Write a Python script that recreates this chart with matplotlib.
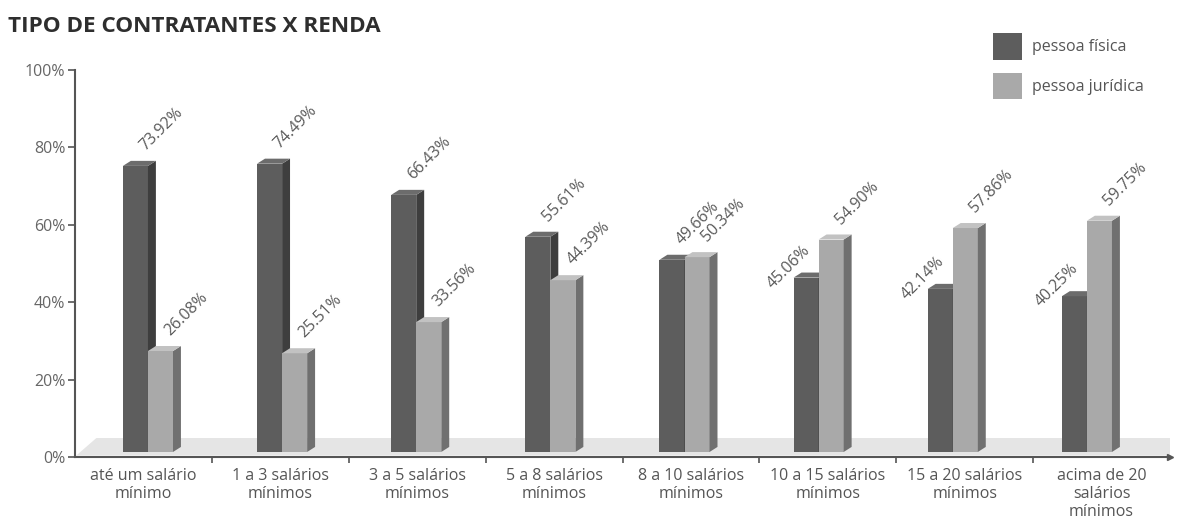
import matplotlib
matplotlib.use('Agg')
import matplotlib.pyplot as plt
from matplotlib.patches import Polygon
import numpy as np

plt.rcParams['font.family'] = ['Open Sans', 'DejaVu Sans']

# dados
categorias = ['até um salário\nmínimo', '1 a 3 salários\nmínimos',
              '3 a 5 salários\nmínimos', '5 a 8 salários\nmínimos',
              '8 a 10 salários\nmínimos', '10 a 15 salários\nmínimos',
              '15 a 20 salários\nmínimos', 'acima de 20\nsalários\nmínimos']
fisica = [73.92, 74.49, 66.43, 55.61, 49.66, 45.06, 42.14, 40.25]
juridica = [26.08, 25.51, 33.56, 44.39, 50.34, 54.90, 57.86, 59.75]
yticks = [0, 20, 40, 60, 80, 100]

# cores (frente, lado, topo)
cor_fis = ('#5d5d5d', '#3e3e3e', '#6c6c6c')
cor_jur = ('#a9a9a9', '#707070', '#c2c2c2')

base = 1.3      # barras ficam sobre o "piso"
larg = 0.183    # largura de cada barra
dx, dy = 0.058, 1.3   # profundidade 3D

fig = plt.figure(figsize=(11.77, 5.27), dpi=100)
ax = fig.add_axes([75/1177, 1 - 457/527, (1170 - 75)/1177, (457 - 70)/527])
ax.set_xlim(-0.5, 7.5)
ax.set_ylim(0, 100)

# piso
ax.add_patch(Polygon([(-0.49, 0.4), (-0.49 + 0.146, 4.9), (7.5, 4.9), (7.5, 0.4)],
                     closed=True, facecolor='#e5e5e5', edgecolor='none', zorder=1))


def barra3d(x0, v, cores, z):
    frente, lado, topo = cores
    ax.bar(x0, v, width=larg, bottom=base, align='edge', color=frente,
           edgecolor='none', zorder=z)
    x1 = x0 + larg
    h = base + v
    ax.add_patch(Polygon([(x1, base), (x1 + dx, base + dy), (x1 + dx, h + dy), (x1, h)],
                         closed=True, facecolor=lado, edgecolor='none', zorder=z))
    ax.add_patch(Polygon([(x0, h), (x0 + dx, h + dy), (x1 + dx, h + dy), (x1, h)],
                         closed=True, facecolor=topo, edgecolor='none', zorder=z))


pos = np.arange(len(categorias))
rot = dict(rotation=45, rotation_mode='anchor', ha='center', va='center',
           fontsize=11.5, color='#5a5a5a', zorder=30,
           bbox=dict(facecolor='white', edgecolor='none', pad=0.5))

for i, (f, j) in enumerate(zip(fisica, juridica)):
    xf = 0.98 * pos[i] - 0.15
    xj = xf + larg
    barra3d(xf, f, cor_fis, 2 + 2 * i)
    barra3d(xj, j, cor_jur, 3 + 2 * i)
    cf = xf + larg / 2
    cj = xj + larg / 2
    if j > f + 3:
        ax.text(cf - 0.13, base + f + 2.8, f'{f:.2f}%', **rot)
    else:
        ax.text(cf + 0.19, base + f + 9.5, f'{f:.2f}%', **rot)
    ax.text(cj + 0.19, base + j + 9.5, f'{j:.2f}%', **rot)

# eixos
for s in ['top', 'right']:
    ax.spines[s].set_visible(False)
for s in ['left', 'bottom']:
    ax.spines[s].set_color('#555555')
    ax.spines[s].set_linewidth(1.5)
ax.plot(1, 0, '>', color='#555555', markersize=4, clip_on=False,
        transform=ax.get_yaxis_transform(), zorder=20)

ax.set_yticks(yticks)
ax.set_yticklabels([f'{v}%' for v in yticks])
ax.tick_params(axis='y', direction='out', length=5, width=1.2, color='#555555',
               labelcolor='#666666', labelsize=11.5, pad=2)

ax.set_xticks(pos[:-1] + 0.5)
ax.set_xticklabels([])
ax.tick_params(axis='x', which='major', direction='out', length=4, width=1.2,
               color='#555555')
ax.set_xticks(pos, minor=True)
ax.set_xticklabels(categorias, minor=True, linespacing=1.15)
ax.tick_params(axis='x', which='minor', length=0, pad=8, labelsize=11.5,
               labelcolor='#555555')

# titulo
fig.text(8/1177, 1 - 27/527, 'TIPO DE CONTRATANTES X RENDA', fontsize=16.2,
         fontweight='bold', color='#2e2e2e', va='center', ha='left')

# legenda
fig.patches.append(plt.Rectangle((993/1177, 1 - 60/527), 29/1177, 27/527,
                                 transform=fig.transFigure, facecolor=cor_fis[0],
                                 edgecolor='none'))
fig.patches.append(plt.Rectangle((993/1177, 1 - 99/527), 29/1177, 26/527,
                                 transform=fig.transFigure, facecolor=cor_jur[0],
                                 edgecolor='none'))
fig.text(1032/1177, 1 - 47/527, 'pessoa física', fontsize=11.5, color='#555555',
         va='center', ha='left')
fig.text(1032/1177, 1 - 87/527, 'pessoa jurídica', fontsize=11.5, color='#555555',
         va='center', ha='left')

fig.savefig('out.png', dpi=100)
